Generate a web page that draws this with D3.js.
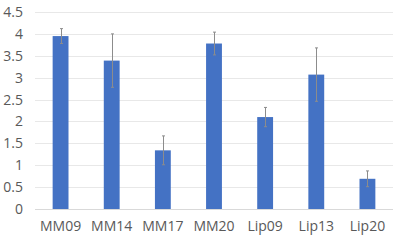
<!DOCTYPE html>
<html>
<head>
<meta charset="utf-8">
<script src="https://cdn.jsdelivr.net/npm/d3@7"></script>
<style>
  body { margin: 0; background: #fff; }
  svg text { font-family: 'Open Sans', 'Liberation Sans', sans-serif; fill: #595959; }
</style>
</head>
<body>
<svg id="chart" width="400" height="240"></svg>
<script>
// data
const categories = ['MM09', 'MM14', 'MM17', 'MM20', 'Lip09', 'Lip13', 'Lip20']
const values = [3.95, 3.39, 1.34, 3.78, 2.10, 3.07, 0.69]
const errors = [0.17, 0.61, 0.33, 0.26, 0.22, 0.61, 0.18]
const yTicks = [0, 0.5, 1, 1.5, 2, 2.5, 3, 3.5, 4, 4.5]

const W = 400, H = 240
const margin = { top: 12, right: 7, bottom: 31, left: 35 }
const innerW = W - margin.left - margin.right
const innerH = H - margin.top - margin.bottom

const svg = d3.select('#chart')
const g = svg.append('g').attr('transform', `translate(${margin.left},${margin.top})`)

const x = d3.scaleBand().domain(categories).range([0, innerW]).paddingInner(0.69).paddingOuter(0.345)
const y = d3.scaleLinear().domain([0, 4.5]).range([innerH, 0])

// 网格线
g.append('g')
  .selectAll('line')
  .data(yTicks)
  .join('line')
  .attr('x1', 0)
  .attr('x2', innerW)
  .attr('y1', d => Math.round(y(d)) + 0.5)
  .attr('y2', d => Math.round(y(d)) + 0.5)
  .attr('stroke', d => (d === 0 ? '#d9d9d9' : '#e8e8e8'))
  .attr('stroke-width', 1)

// y 轴
const yAxis = d3.axisLeft(y).tickValues(yTicks).tickSize(0).tickPadding(12).tickFormat(d3.format('~g'))
g.append('g').call(yAxis).call(a => a.select('.domain').remove())
  .selectAll('text').attr('font-size', 14)

// x 轴
const xAxis = d3.axisBottom(x).tickSize(0).tickPadding(12)
g.append('g').attr('transform', `translate(0,${innerH})`).call(xAxis)
  .call(a => a.select('.domain').remove())
  .selectAll('text').attr('font-size', 14)

// 柱子
g.append('g')
  .selectAll('rect')
  .data(values)
  .join('rect')
  .attr('x', (d, i) => x(categories[i]))
  .attr('y', d => y(d))
  .attr('width', x.bandwidth())
  .attr('height', d => y(0) - y(d))
  .attr('fill', '#4472c4')

// 误差线
const eg = g.append('g').attr('stroke', '#8c8c8c').attr('stroke-width', 1)
values.forEach((v, i) => {
  const cx = Math.round(x(categories[i]) + x.bandwidth() / 2) + 0.5
  const y0 = y(v - errors[i]), y1 = y(v + errors[i])
  eg.append('line').attr('x1', cx).attr('x2', cx).attr('y1', y0).attr('y2', y1)
  eg.append('line').attr('x1', cx - 1.5).attr('x2', cx + 1.5).attr('y1', y1).attr('y2', y1)
  eg.append('line').attr('x1', cx - 1.5).attr('x2', cx + 1.5).attr('y1', y0).attr('y2', y0)
})
</script>
</body>
</html>
